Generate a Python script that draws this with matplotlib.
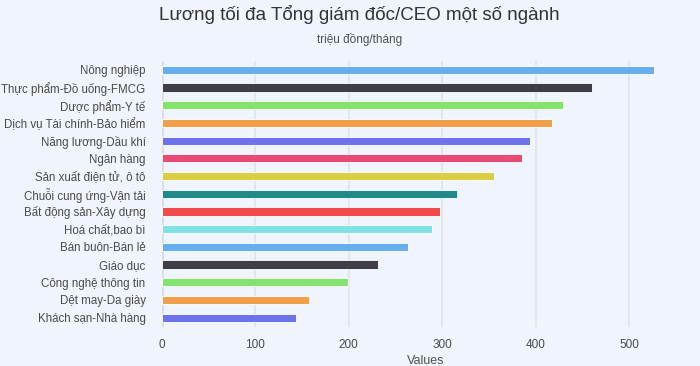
import matplotlib.pyplot as plt

# =========================
# Data
# =========================

industries = [
    "Nông nghiệp",
    "Thực phẩm-Đồ uống-FMCG",
    "Dược phẩm-Y tế",
    "Dịch vụ Tài chính-Bảo hiểm",
    "Năng lương-Dầu khí",
    "Ngân hàng",
    "Sản xuất điện tử, ô tô",
    "Chuỗi cung ứng-Vận tải",
    "Bất động sản-Xây dựng",
    "Hoá chất,bao bì",
    "Bán buôn-Bán lẻ",
    "Giáo dục",
    "Công nghệ thông tin",
    "Dệt may-Da giày",
    "Khách sạn-Nhà hàng",
]
salaries = [526, 460, 429, 418, 394, 385, 355, 316, 298, 289, 263, 231, 199, 158, 144]
x_ticks = [0, 100, 200, 300, 400, 500]

colors = [
    "#67AEEE", "#3E3D48", "#83E36C", "#EFA04D", "#6C73E8",
    "#E94B79", "#DBCE45", "#208A8A", "#F04B4C", "#80E2E5",
    "#67AEEE", "#3E3D48", "#83E36C", "#EFA04D", "#6C73E8",
]

BG = "#EFF4FD"

# =========================
# Plot
# =========================

plt.rcParams["font.family"] = ["Liberation Sans", "DejaVu Sans"]

fig = plt.figure(figsize=(7, 3.66), dpi=100, facecolor=BG)
ax = fig.add_axes([161.5 / 700, 1 - 326.5 / 366, (690 - 161.5) / 700, (326.5 - 61) / 366])
ax.set_facecolor(BG)

y_pos = list(range(len(industries)))
ax.barh(y_pos, salaries, height=0.46, color=colors, edgecolor="white",
        linewidth=0.6, zorder=3)

ax.set_xlim(0, 565)
ax.set_ylim(len(industries) - 0.5, -0.5)

ax.set_xticks(x_ticks)
ax.set_xticklabels([str(t) for t in x_ticks])
ax.set_yticks(y_pos)
ax.set_yticklabels(industries)

ax.tick_params(axis="y", length=0, pad=11.5, labelsize=8.3, labelcolor="#4A4A4A")
ax.tick_params(axis="x", length=0, pad=9, labelsize=8.5, labelcolor="#4A4A4A")

ax.grid(axis="x", color="#DDE3EE", linewidth=1.2, zorder=0)
ax.axvline(0, color="#D3DCF0", linewidth=2, zorder=2)
for side in ["top", "right", "bottom", "left"]:
    ax.spines[side].set_visible(False)

ax.set_xlabel("Values", fontsize=9, color="#505050", labelpad=3)

fig.text(0.514, 1 - 15 / 366, "Lương tối đa Tổng giám đốc/CEO một số ngành",
         ha="center", va="center", fontsize=13.5, color="#333333")
fig.text(0.514, 1 - 39 / 366, "triệu đồng/tháng",
         ha="center", va="center", fontsize=8.5, color="#505050")

fig.savefig("out.png", dpi=100, facecolor=BG)
